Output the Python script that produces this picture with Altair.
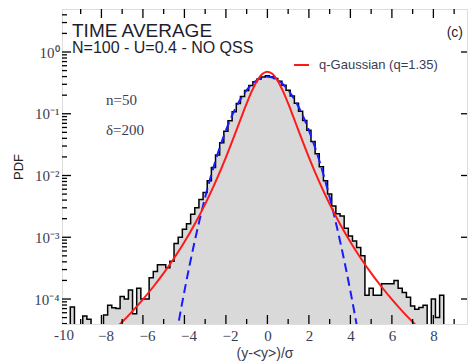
import altair as alt
import pandas as pd

W, H = 405, 315
X_MIN, X_MAX = -9.9, 9.62
Y_MIN, Y_MAX = 3.94e-5, 4.97

# ---- histogram (bin width 0.2, first left edge -9.9) ----
bin_left = -9.9
bin_width = 0.2
hist = [
    0, 0, 7.4e-5, 0, 0, 5.3e-5, 4.7e-5, 0, 0, 0,
    5.5e-5, 7.9e-5, 7.2e-5, 7.0e-5, 1.1e-4, 1.0e-4, 1.4e-4, 5.8e-5, 1.5e-4, 1.0e-4,
    1.0e-4, 2.2e-4, 2.8e-4, 3.6e-4, 3.6e-4, 3.2e-4, 4.1e-4, 7.9e-4, 1.0e-3, 1.35e-3,
    1.66e-3, 2.35e-3, 3.0e-3, 4.1e-3, 5.3e-3, 8.2e-3, 0.0135, 0.0215, 0.034, 0.052,
    0.077, 0.108, 0.146, 0.190, 0.238, 0.287, 0.330, 0.367, 0.392,
    0.412, 0.398, 0.372, 0.336, 0.290, 0.240, 0.193, 0.148, 0.110, 0.078,
    0.054, 0.0355, 0.0225, 0.0138, 0.0082, 0.0050, 3.2e-3, 2.4e-3, 2.2e-3, 1.4e-3,
    1.05e-3, 8.7e-4, 6.8e-4, 5.0e-4, 1.15e-4, 1.5e-4, 1.15e-4, 1.15e-4, 1.77e-4, 1.77e-4,
    1.77e-4, 2.0e-4, 1.5e-4, 1.27e-4, 1.07e-4, 7.7e-5, 6.8e-5, 7.3e-5, 7.9e-5, 0,
    1.0e-4, 5.0e-5, 1.15e-4, 0, 0, 0, 0, 0, 0,
]

# ---- Gaussian (blue dashed) ----
gauss_x = [-4.5, -4.25, -4.0, -3.75, -3.5, -3.25, -3.0, -2.75, -2.5, -2.25, -2.0,
           -1.75, -1.5, -1.25, -1.0, -0.75, -0.5, -0.25, 0.0, 0.25, 0.5, 0.75, 1.0,
           1.25, 1.5, 1.75, 2.0, 2.25, 2.5, 2.75, 3.0, 3.25, 3.5, 3.75, 4.0, 4.25, 4.5]
gauss_y = [1.6e-5, 4.77e-5, 1.34e-4, 3.53e-4, 8.73e-4, 2.03e-3, 4.43e-3, 9.09e-3, 0.0175,
           0.0317, 0.0540, 0.0863, 0.1295, 0.1826, 0.2420, 0.3011, 0.3521, 0.3867, 0.3989,
           0.3867, 0.3521, 0.3011, 0.2420, 0.1826, 0.1295, 0.0863, 0.0540, 0.0317, 0.0175,
           9.09e-3, 4.43e-3, 2.03e-3, 8.73e-4, 3.53e-4, 1.34e-4, 4.77e-5, 1.6e-5]

# ---- q-Gaussian (red) ----
qg_x = [-7.2, -7.0, -6.5, -6.0, -5.5, -5.0, -4.5, -4.0, -3.5, -3.0, -2.5, -2.0, -1.75,
        -1.5, -1.25, -1.0, -0.75, -0.5, -0.25, 0.0, 0.25, 0.5, 0.75, 1.0, 1.25, 1.5,
        1.75, 2.0, 2.5, 3.0, 3.5, 4.0, 4.5, 5.0, 5.5, 6.0, 6.5, 7.0, 7.2]
qg_y = [3.64e-5, 4.25e-5, 6.38e-5, 9.87e-5, 1.58e-4, 2.62e-4, 4.57e-4, 8.38e-4, 1.638e-3,
        3.44e-3, 7.87e-3, 0.0197, 0.0322, 0.0533, 0.0890, 0.1466, 0.2322, 0.3397, 0.4385,
        0.48, 0.4385, 0.3397, 0.2322, 0.1466, 0.0890, 0.0533, 0.0322, 0.0197, 7.87e-3,
        3.44e-3, 1.638e-3, 8.38e-4, 4.57e-4, 2.62e-4, 1.58e-4, 9.87e-5, 6.38e-5, 4.25e-5,
        3.64e-5]

x_major = [-10, -8, -6, -4, -2, 0, 2, 4, 6, 8]
x_minor = [-9, -7, -5, -3, -1, 1, 3, 5, 7, 9]
y_major = [1e-4, 1e-3, 1e-2, 1e-1, 1.0]
y_minor_mult = [2, 3, 4, 5, 6, 7, 8, 9]

legend_label = "q-Gaussian (q=1.35)"
title1 = "TIME AVERAGE"
title2 = "N=100 - U=0.4 - NO QSS"
panel = "(c)"
note1 = "n=50"
note2 = "δ=200"

# ---- tables ----
FLOOR = 1e-7
edges = [round(bin_left + i * bin_width, 3) for i in range(len(hist) + 1)]
vals = [max(v, FLOOR) for v in hist] + [max(hist[-1], FLOOR)]
hist_df = pd.DataFrame({"x": edges, "y": vals, "base": [FLOOR] * len(edges)})
gauss_df = pd.DataFrame({"x": gauss_x, "y": gauss_y})
qg_df = pd.DataFrame({"x": qg_x, "y": qg_y})

y_minor = [m * 10.0 ** e for e in range(-5, 1) for m in y_minor_mult
           if Y_MIN <= m * 10.0 ** e <= Y_MAX]

xs = alt.Scale(domain=[X_MIN, X_MAX], nice=False, zero=False)
ys = alt.Scale(type="log", domain=[Y_MIN, Y_MAX], nice=False)

sup = ("'10' + (round(log(datum.value)/LN10)==0 ? '⁰' : "
       "round(log(datum.value)/LN10)==-1 ? '⁻¹' : "
       "round(log(datum.value)/LN10)==-2 ? '⁻²' : "
       "round(log(datum.value)/LN10)==-3 ? '⁻³' : '⁻⁴')")

LAB = "#3c3c50"

base_x = alt.X("x:Q", scale=xs, axis=alt.Axis(
    values=x_major, ticks=False, domain=False, grid=False,
    labelFont="Liberation Serif", labelFontSize=15, labelColor=LAB,
    labelPadding=4, labelFlush=False,
    labelOffset={"condition": {"test": "datum.value < 0", "value": 4}, "value": 0},
    title="(y-<y>)/σ", titleFont="Liberation Sans", titleFontSize=14,
    titleFontWeight="normal", titleColor=LAB, titlePadding=3))
base_y = alt.Y("y:Q", scale=ys, axis=alt.Axis(
    values=y_major, ticks=False, domain=False, grid=False, labelExpr=sup,
    labelFont="Liberation Serif", labelFontSize=15, labelColor=LAB, labelPadding=3,
    title="PDF", titleFont="Liberation Sans", titleFontSize=13,
    titleFontWeight="normal", titleColor="#222", titlePadding=8))

area = alt.Chart(hist_df).mark_area(
    interpolate="step-after", fill="#d9d9d9", clip=True
).encode(x=base_x, y=base_y, y2="base:Q")

step = alt.Chart(hist_df).mark_line(
    interpolate="step-after", color="black", strokeWidth=1.5, clip=True
).encode(x=alt.X("x:Q", scale=xs), y=alt.Y("y:Q", scale=ys))

gauss = alt.Chart(gauss_df).mark_line(
    color="#1a1aff", strokeWidth=2, strokeDash=[9, 5], clip=True, interpolate="monotone"
).encode(x=alt.X("x:Q", scale=xs), y=alt.Y("y:Q", scale=ys))

qgl = alt.Chart(qg_df).mark_line(
    color="#ff1a1a", strokeWidth=2, clip=True, interpolate="monotone"
).encode(x=alt.X("x:Q", scale=xs), y=alt.Y("y:Q", scale=ys))

# "-10" sits just outside the scale domain, so place it through the scale by hand
edge_lab = alt.Chart(pd.DataFrame({"x": [-10], "t": ["-10"]})).mark_text(
    font="Liberation Serif", fontSize=15, color=LAB, baseline="top", align="center", dx=4
).encode(x=alt.X("x:Q", scale=xs), y=alt.value(H + 4), text="t:N")

# ---- ticks (inward) ----
def xticks(vals_, length, top):
    d = pd.DataFrame({"x": vals_})
    if top:
        yy, yy2 = alt.value(0), alt.value(length)
    else:
        yy, yy2 = alt.value(H), alt.value(H - length)
    return alt.Chart(d).mark_rule(color="black", strokeWidth=1.3, clip=True).encode(
        x=alt.X("x:Q", scale=xs), y=yy, y2=yy2)

def yticks(vals_, length, right):
    d = pd.DataFrame({"y": vals_})
    if right:
        xx, xx2 = alt.value(W), alt.value(W - length)
    else:
        xx, xx2 = alt.value(0), alt.value(length)
    return alt.Chart(d).mark_rule(color="black", strokeWidth=1.3, clip=True).encode(
        y=alt.Y("y:Q", scale=ys), x=xx, x2=xx2)

ticks = [
    xticks(x_major, 9, False), xticks(x_minor, 5, False),
    xticks(x_major, 9, True), xticks(x_minor, 5, True),
    yticks(y_major, 9, False), yticks(y_minor, 5, False),
    yticks(y_major, 6, True),
]

# ---- legend & annotations ----
leg_line = alt.Chart(pd.DataFrame({"a": [0]})).mark_rule(color="#ff1a1a", strokeWidth=2).encode(
    x=alt.value(232), x2=alt.value(247), y=alt.value(56))
leg_text = alt.Chart(pd.DataFrame({"t": [legend_label]})).mark_text(
    align="left", baseline="middle", font="Liberation Sans", fontSize=13, color=LAB
).encode(text="t:N", x=alt.value(257), y=alt.value(56))

def label(txt, x, y, size, font, align="left", color="#1e1e2e"):
    return alt.Chart(pd.DataFrame({"t": [txt]})).mark_text(
        align=align, baseline="alphabetic", font=font, fontSize=size, color=color
    ).encode(text="t:N", x=alt.value(x), y=alt.value(y))

texts = [
    label(title1, 10, 28, 19, "Liberation Sans"),
    label(title2, 10, 44, 16, "Liberation Sans"),
    label(panel, 401, 28, 14, "Liberation Sans", align="right"),
    label(note1, 44, 96, 15, "Liberation Serif", color=LAB),
    label(note2, 44, 126, 15, "Liberation Serif", color=LAB),
]

chart = alt.layer(area, step, gauss, qgl, edge_lab, *ticks, leg_line, leg_text, *texts).properties(
    width=W, height=H,
    autosize=alt.AutoSizeParams(type="none"),
    padding={"left": 62, "top": 9, "right": 1, "bottom": 38},
).configure_view(stroke="black", strokeWidth=1.5).configure(background="white")

chart.save("out.html", embed_options={"renderer": "svg", "actions": False})
